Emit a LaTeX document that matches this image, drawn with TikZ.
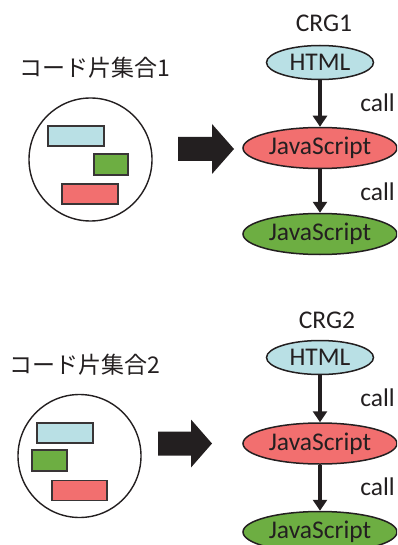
\documentclass[tikz,border=0pt]{standalone}
\usepackage{fontspec}
\setmainfont{Carlito}
\newfontfamily\jpfont{Noto Sans CJK JP}
\usetikzlibrary{arrows.meta,shapes.geometric,positioning}

\definecolor{htmlblue}{HTML}{B9E0E5}
\definecolor{jsred}{HTML}{F26F6F}
\definecolor{jsgreen}{HTML}{6DAE42}
\definecolor{ink}{HTML}{231F20}

\begin{document}
\begin{tikzpicture}[x=1pt, y=-1pt,
    lang/.style={draw=ink, ellipse, line width=1.5pt, inner sep=0pt, text=ink, font=\fontsize{25.5}{26}\selectfont},
    html/.style={lang, fill=htmlblue, minimum width=107pt, minimum height=34pt},
    js/.style={lang, minimum width=154pt, minimum height=41pt},
    pool/.style={draw=ink, circle, line width=1.4pt, minimum size=123pt, inner sep=0pt},
    piece/.style={draw=ink!90, line width=1.7pt, inner sep=0pt, minimum height=20pt},
    calls/.style={-{Triangle[length=11pt,width=14pt]}, line width=3.2pt, draw=ink},
    lbl/.style={text=ink, font=\fontsize{25.5}{26}\selectfont},
    title/.style={text=ink, font=\jpfont\fontsize{23}{24}\selectfont}
]
\clip (0,0) rectangle (397,545);

% first set of code pieces
\node[title] (set1) at (95,68) {コード片集合1};
\node[pool] (pool1) at (90.5,159.5) {};
\node[piece, fill=htmlblue, minimum width=56pt] (p1a) at (76,136) {};
\node[piece, fill=jsgreen, minimum width=34pt, minimum height=21pt] (p1b) at (111,164.5) {};
\node[piece, fill=jsred, minimum width=56pt] (p1c) at (90,194) {};

% CRG1
\node[lbl] (crg1) at (324,23) {CRG1};
\node[html] (html1) at (320,62.5) {HTML};
\node[js, fill=jsred] (js1) at (320,148) {JavaScript};
\node[js, fill=jsgreen] (js1b) at (320,234) {JavaScript};
\draw[calls] (html1) -- (js1);
\draw[calls] (js1) -- (js1b);
\node[lbl] (call1) at (377.5,103) {call};
\node[lbl] (call1b) at (377.5,192) {call};

\coordinate (push1) at (178,149);
\fill[ink] (push1) ++(0,-12) -- ++(34,0) -- ++(0,-13) -- ++(22,25) -- ++(-22,25) -- ++(0,-13) -- ++(-34,0) -- cycle;

% second set of code pieces
\node[title] (set2) at (85,365) {コード片集合2};
\node[pool] (pool2) at (79.5,456) {};
\node[piece, fill=htmlblue, minimum width=56pt] (p2a) at (65,433) {};
\node[piece, fill=jsgreen, minimum width=35pt, minimum height=21pt] (p2b) at (49.5,460.5) {};
\node[piece, fill=jsred, minimum width=55pt] (p2c) at (79.5,490.5) {};

% CRG2
\node[lbl] (crg2) at (327,320) {CRG2};
\node[html] (html2) at (320,357.5) {HTML};
\node[js, fill=jsred] (js2) at (320,443.5) {JavaScript};
\node[js, fill=jsgreen] (js2b) at (320,532) {JavaScript};
\draw[calls] (html2) -- (js2);
\draw[calls] (js2) -- (js2b);
\node[lbl] (call2) at (377.5,398) {call};
\node[lbl] (call2b) at (377.5,487) {call};

\coordinate (push2) at (158,443.5);
\fill[ink] (push2) ++(0,-12) -- ++(33,0) -- ++(0,-12) -- ++(21,24) -- ++(-21,24) -- ++(0,-12) -- ++(-33,0) -- cycle;
\end{tikzpicture}
\end{document}
